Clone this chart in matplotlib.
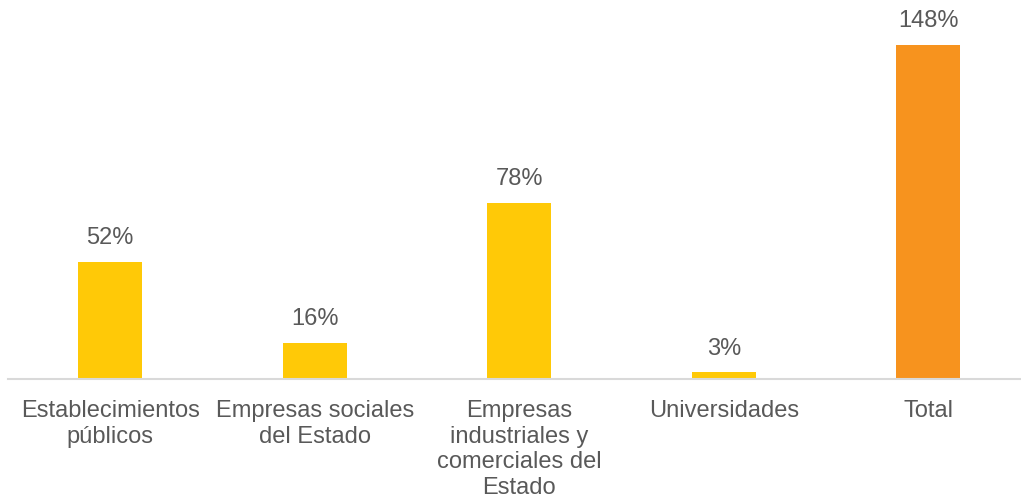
import matplotlib
matplotlib.use("Agg")
import matplotlib.pyplot as plt

categories = ["Establecimientos\npúblicos", "Empresas sociales\ndel Estado",
              "Empresas\nindustriales y\ncomerciales del\nEstado", "Universidades", "Total"]
values = [52, 16, 78, 3, 148]
labels = ["52%", "16%", "78%", "3%", "148%"]
colors = ["#FFC907", "#FFC907", "#FFC907", "#FFC907", "#F7931E"]

plt.rcParams['font.family'] = ['Liberation Sans', 'DejaVu Sans']
fig = plt.figure(figsize=(10.21, 5.0), dpi=100)
W, H = 1021, 500
left = 8 / W
width = 1022.5 / W
bottom = (H - 379) / H
ymax = 160
height = (ymax * 334 / 148) / H
ax = fig.add_axes([left, bottom, width, height])

x = list(range(len(categories)))
bars = ax.bar(x, values, width=0.313, color=colors, zorder=2)
for xi, v, lab in zip(x, values, labels):
    ax.annotate(lab, (xi, v), xytext=(0, 9), textcoords="offset points",
                ha="center", va="bottom", fontsize=17, color="#595959")

ax.set_xlim(-0.5, len(categories) - 0.5)
ax.set_ylim(0, ymax)
ax.set_xticks(x)
ax.set_xticklabels(categories, fontsize=17, color="#595959", linespacing=1.22)
ax.tick_params(axis='x', length=0, pad=15)
ax.set_yticks([])
for s in ["top", "right", "left"]:
    ax.spines[s].set_visible(False)
ax.spines["bottom"].set_color("#D9D9D9")
ax.spines["bottom"].set_linewidth(1.5)

fig.savefig("out.png", dpi=100)
